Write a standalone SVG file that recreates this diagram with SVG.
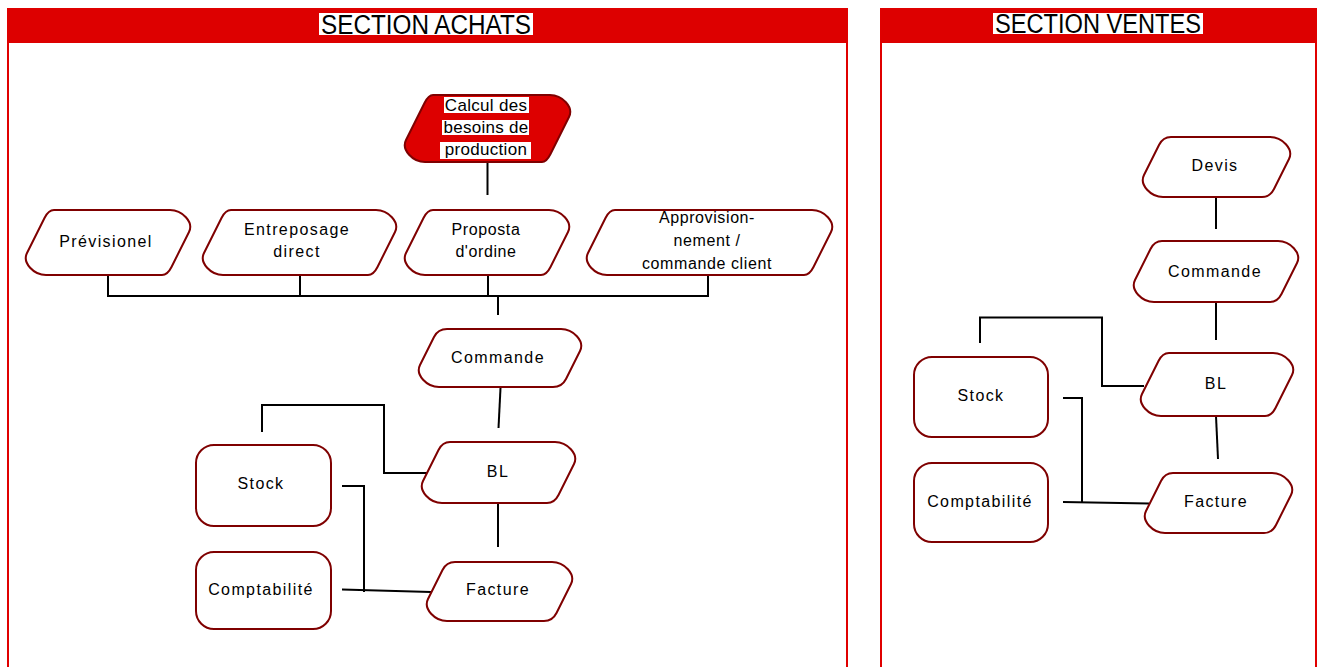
<svg xmlns="http://www.w3.org/2000/svg" width="1319" height="667" viewBox="0 0 1319 667">
<style>
.panel{fill:#ffffff;stroke:#e00000;stroke-width:2}
.hdr{fill:#dd0000}
.hl{fill:#ffffff}
.ht{font-family:"Liberation Sans",Arial,sans-serif;font-size:27px;fill:#000000;text-anchor:middle}
.node{fill:#ffffff;stroke:#7f0000;stroke-width:2}
.red{fill:#dd0000;stroke:#7f0000;stroke-width:2}
.t{font-family:"Liberation Sans",Arial,sans-serif;font-size:16px;letter-spacing:1.4px;fill:#000000;text-anchor:middle}
.t2{font-family:"Liberation Sans",Arial,sans-serif;font-size:16px;letter-spacing:0.6px;fill:#000000;text-anchor:middle}
.t3{font-family:"Liberation Sans",Arial,sans-serif;font-size:17px;letter-spacing:0.3px;fill:#000000;text-anchor:middle}
.c{fill:none;stroke:#000000;stroke-width:2}
</style>
<rect width="1319" height="667" fill="#ffffff"/>
<g id="panel-achats">
<rect class="panel" x="8" y="9" width="839" height="670"/>
<rect class="hdr" x="8" y="9" width="839" height="34"/>
<rect class="hl" x="319" y="13" width="214" height="22"/>
<text class="ht" x="426" y="34" textLength="210" lengthAdjust="spacingAndGlyphs">SECTION ACHATS</text>
</g>
<g id="panel-ventes">
<rect class="panel" x="881" y="9" width="435" height="670"/>
<rect class="hdr" x="881" y="9" width="435" height="34"/>
<rect class="hl" x="993" y="13" width="210" height="21"/>
<text class="ht" x="1098" y="33" textLength="206" lengthAdjust="spacingAndGlyphs">SECTION VENTES</text>
</g>
<g id="connectors">
<path class="c" d="M487.5,163 V195"/>
<path class="c" d="M108,276 V296 M300,276 V296 M488,276 V296 M708,276 V296 M107,296 H709 M498,296 V315"/>
<path class="c" d="M500.5,388 L498.5,428"/>
<path class="c" d="M262,432 V405 H384 V473 H427"/>
<path class="c" d="M498,503 V547"/>
<path class="c" d="M342,486 H364 V592"/>
<path class="c" d="M342,589.5 L431,592"/>
<path class="c" d="M1216,197 V229"/>
<path class="c" d="M1216,302 V340"/>
<path class="c" d="M980,343 V317.5 H1102 V386 H1144"/>
<path class="c" d="M1216,416 L1218,459"/>
<path class="c" d="M1063,398 H1082 V503"/>
<path class="c" d="M1063,502 L1149,503.5"/>
</g>
<g id="node-calcul">
<path class="red" d="M433,95 L550,95 C562,95 574,107 569,117 L550.5,154 Q546.5,162 542,162 L425,162 C413,162 401,150 406,140 L424.5,103 Q428.5,95 433,95 Z"/>
<rect class="hl" x="444" y="97" width="85" height="16"/>
<rect class="hl" x="442" y="120" width="87" height="15"/>
<rect class="hl" x="440" y="142" width="91" height="17"/>
<text class="t3" x="486" y="111">Calcul des</text>
<text class="t3" x="486" y="133">besoins de</text>
<text class="t3" x="486" y="155">production</text>
</g>
<g id="node-previsionel">
<path class="node" d="M54,210 L170,210 C182,210 194,222 189,232 L171.5,267 Q167.5,275 162,275 L46,275 C34,275 22,263 27,253 L44.5,218 Q48.5,210 54,210 Z"/>
<text class="t" x="106" y="247">Prévisionel</text>
</g>
<g id="node-entreposage">
<path class="node" d="M231,210 L376,210 C388,210 400,222 395,232 L377.5,267 Q373.5,275 368,275 L223,275 C211,275 199,263 204,253 L221.5,218 Q225.5,210 231,210 Z"/>
<text class="t" x="297" y="235">Entreposage</text>
<text class="t" x="297" y="257">direct</text>
</g>
<g id="node-proposta">
<path class="node" d="M433,210 L549,210 C561,210 573,222 568,232 L550.5,267 Q546.5,275 541,275 L425,275 C413,275 401,263 406,253 L423.5,218 Q427.5,210 433,210 Z"/>
<text class="t2" x="486" y="235">Proposta</text>
<text class="t2" x="486" y="257">d'ordine</text>
</g>
<g id="node-approvisionnement">
<path class="node" d="M615,210 L812,210 C824,210 836,222 831,232 L813.5,267 Q809.5,275 804,275 L607,275 C595,275 583,263 588,253 L605.5,218 Q609.5,210 615,210 Z"/>
<text class="t2" x="707" y="223">Approvision-</text>
<text class="t2" x="707" y="246">nement /</text>
<text class="t2" x="707" y="269">commande client</text>
</g>
<g id="node-commande-achats">
<path class="node" d="M447,329 L561,329 C573,329 585,341 580,351 L566,379 Q562,387 553,387 L439,387 C427,387 415,375 420,365 L434,337 Q438,329 447,329 Z"/>
<text class="t" x="498" y="363">Commande</text>
</g>
<g id="node-bl-achats">
<path class="node" d="M450,442 L555,442 C567,442 579,454 574,464 L558.5,495 Q554.5,503 547,503 L442,503 C430,503 418,491 423,481 L438.5,450 Q442.5,442 450,442 Z"/>
<text class="t" x="498" y="477">BL</text>
</g>
<g id="node-stock-achats">
<rect class="node" x="196" y="445" width="135" height="81" rx="18"/>
<text class="t" x="261" y="489">Stock</text>
</g>
<g id="node-comptabilite-achats">
<rect class="node" x="196" y="552" width="135" height="77" rx="18"/>
<text class="t" x="261" y="595">Comptabilité</text>
</g>
<g id="node-facture-achats">
<path class="node" d="M455,562 L552,562 C564,562 576,574 571,584 L556.5,613 Q552.5,621 544,621 L447,621 C435,621 423,609 428,599 L442.5,570 Q446.5,562 455,562 Z"/>
<text class="t" x="498" y="595">Facture</text>
</g>
<g id="node-devis">
<path class="node" d="M1171,137 L1270,137 C1282,137 1294,149 1289,159 L1274,189 Q1270,197 1262,197 L1163,197 C1151,197 1139,185 1144,175 L1159,145 Q1163,137 1171,137 Z"/>
<text class="t" x="1215" y="171">Devis</text>
</g>
<g id="node-commande-ventes">
<path class="node" d="M1162,241 L1278,241 C1290,241 1302,253 1297,263 L1281.5,294 Q1277.5,302 1270,302 L1154,302 C1142,302 1130,290 1135,280 L1150.5,249 Q1154.5,241 1162,241 Z"/>
<text class="t" x="1215" y="277">Commande</text>
</g>
<g id="node-bl-ventes">
<path class="node" d="M1169,353 L1273,353 C1285,353 1297,365 1292,375 L1275.5,408 Q1271.5,416 1265,416 L1161,416 C1149,416 1137,404 1142,394 L1158.5,361 Q1162.5,353 1169,353 Z"/>
<text class="t" x="1216" y="389">BL</text>
</g>
<g id="node-stock-ventes">
<rect class="node" x="914" y="357" width="134" height="80" rx="18"/>
<text class="t" x="981" y="401">Stock</text>
</g>
<g id="node-comptabilite-ventes">
<rect class="node" x="914" y="463" width="134" height="79" rx="18"/>
<text class="t" x="980" y="507">Comptabilité</text>
</g>
<g id="node-facture-ventes">
<path class="node" d="M1173,473 L1272,473 C1284,473 1296,485 1291,495 L1276,525 Q1272,533 1264,533 L1165,533 C1153,533 1141,521 1146,511 L1161,481 Q1165,473 1173,473 Z"/>
<text class="t" x="1216" y="507">Facture</text>
</g>
</svg>
